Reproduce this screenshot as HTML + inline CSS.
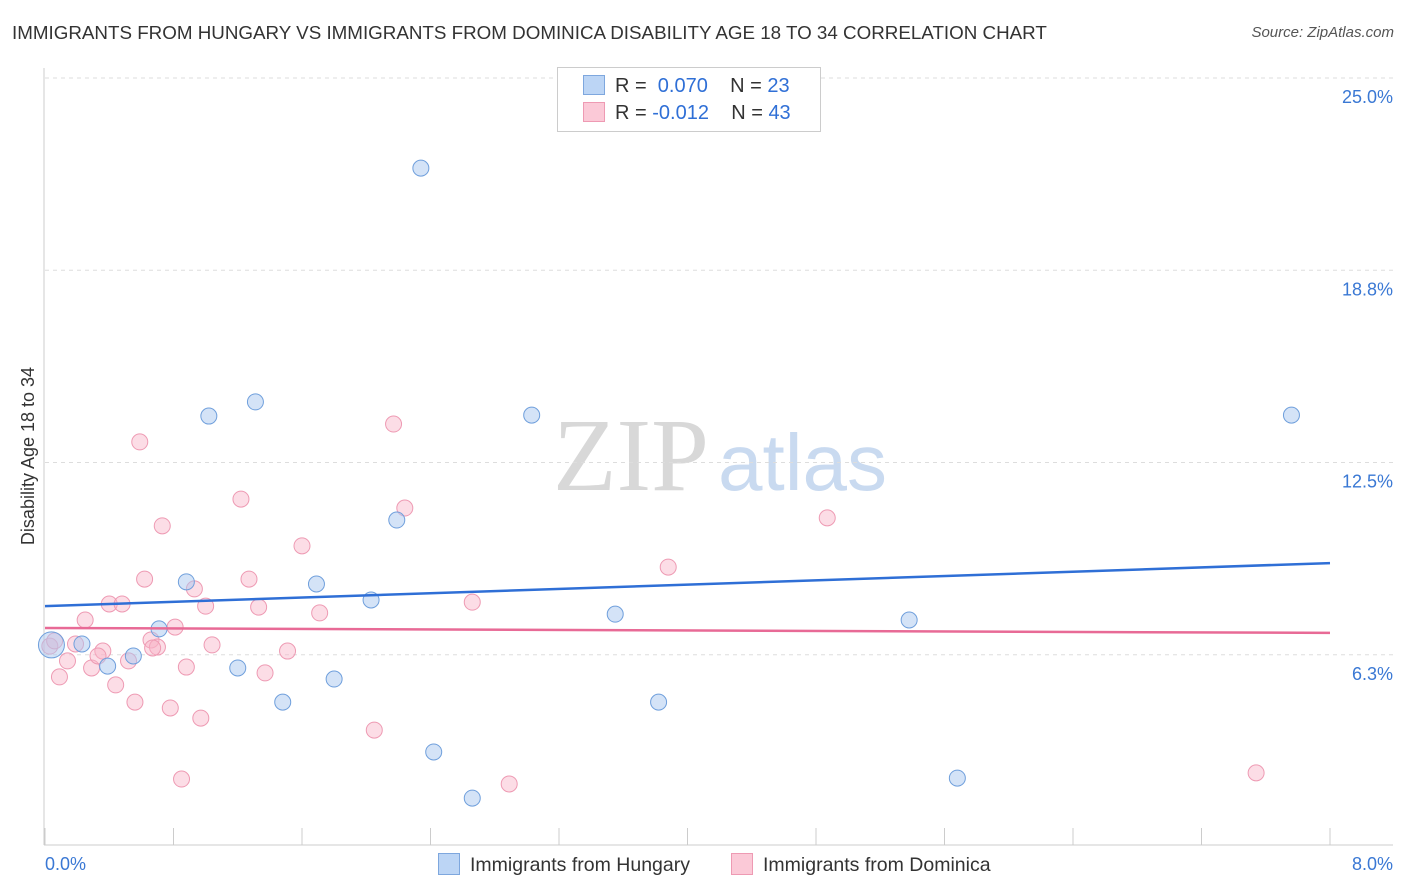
<!DOCTYPE html>
<html><head><meta charset="utf-8"><style>
body{margin:0;background:#fff;font-family:"Liberation Sans",sans-serif;}
#wrap{position:relative;width:1406px;height:892px;overflow:hidden;}
.t{position:absolute;white-space:nowrap;}
</style></head><body>
<div id="wrap">
<div class="t" style="left:12px;top:22px;font-size:18.8px;color:#333;">IMMIGRANTS FROM HUNGARY VS IMMIGRANTS FROM DOMINICA DISABILITY AGE 18 TO 34 CORRELATION CHART</div>
<div class="t" style="right:12px;top:24px;font-size:15px;color:#555;font-style:italic;">Source: ZipAtlas.com</div>
<svg id="svg" width="1406" height="892" style="position:absolute;left:0;top:0"></svg>
</div>
<script>
const xTicks=[0,0.8,1.6,2.4,3.2,4.0,4.8,5.6,6.4,7.2,8.0];
const yTicks=[6.25,12.5,18.75,25];
const yTickLabels=["6.3%","12.5%","18.8%","25.0%"];
const hungaryX=[0.04,0.23,0.39,0.55,0.71,0.88,1.02,1.20,1.31,1.48,1.69,1.80,2.03,2.19,2.34,2.42,2.66,3.03,3.55,3.82,5.38,5.68,7.76];
const hungaryY=[6.57,6.60,5.88,6.21,7.09,8.62,14.01,5.82,14.47,4.71,8.55,5.46,8.03,10.63,22.07,3.09,1.59,14.04,7.57,4.71,7.38,2.24,14.04];
const dominicaX=[0.03,0.09,0.14,0.19,0.25,0.29,0.36,0.40,0.44,0.48,0.52,0.56,0.59,0.62,0.66,0.70,0.73,0.78,0.81,0.85,0.88,0.93,0.97,1.00,1.04,1.22,1.27,1.33,1.37,1.51,1.60,1.71,2.05,2.17,2.24,2.66,2.89,3.88,4.87,7.54,0.06,0.33,0.67];
const dominicaY=[6.53,5.53,6.05,6.60,7.38,5.82,6.37,7.90,5.27,7.90,6.05,4.71,13.17,8.71,6.73,6.50,10.44,4.52,7.15,2.21,5.85,8.39,4.19,7.83,6.57,11.31,8.71,7.80,5.66,6.37,9.79,7.61,3.80,13.75,11.02,7.96,2.05,9.10,10.70,2.41,6.70,6.21,6.47];
const hungaryTrend=[7.83,9.23];
const dominicaTrend=[7.12,6.96];

const svg=document.getElementById('svg');const NS='http://www.w3.org/2000/svg';
const X=v=>45+v/8*1285, Y=v=>847-v*30.76;
function el(tag,attrs,name){const e=document.createElementNS(NS,tag);for(const k in attrs)e.setAttribute(k,attrs[k]);


svg.appendChild(e);return e;}
let w=el('text',{x:553,y:490,'font-size':104,fill:'#d8d8d8','font-family':'Liberation Serif, serif'},'watermark-zip');w.textContent='ZIP';
w=el('text',{x:718,y:490,'font-size':80,fill:'#c9daf0','font-family':'Liberation Sans, sans-serif'},'watermark-atlas');w.textContent='atlas';
yTicks.forEach((t,i)=>{el('line',{x1:45,x2:1393,y1:Y(t),y2:Y(t),stroke:'#ddd','stroke-dasharray':'4,4'},'gridline');
const tx=el('text',{x:1393,y:Y(t)+25,'font-size':18,fill:'#3a78d4','text-anchor':'end'},'y-tick-label');tx.textContent=yTickLabels[i];});
el('line',{x1:44,x2:44,y1:68,y2:845,stroke:'#ccc'},'y-axis-line');
el('line',{x1:44,x2:1393,y1:845,y2:845,stroke:'#ccc'},'x-axis-line');
xTicks.forEach(t=>el('line',{x1:X(t),x2:X(t),y1:828,y2:845,stroke:'#ccc'},'x-tick'));
let tx=el('text',{x:45,y:870,'font-size':18,fill:'#3a78d4'},'x-min-label');tx.textContent='0.0%';
tx=el('text',{x:1393,y:870,'font-size':18,fill:'#3a78d4','text-anchor':'end'},'x-max-label');tx.textContent='8.0%';
tx=el('text',{x:34,y:456,'font-size':18,fill:'#333','text-anchor':'middle',transform:'rotate(-90 34 456)'},'y-axis-title');tx.textContent='Disability Age 18 to 34';
dominicaX.forEach((v,i)=>el('circle',{cx:X(v),cy:Y(dominicaY[i]),r:8,fill:'rgba(248,180,200,0.45)',stroke:'#ee9ab3','stroke-width':1},'dominica-point'));
hungaryX.forEach((v,i)=>el('circle',{cx:X(v),cy:Y(hungaryY[i]),r:i==0?13:8,fill:'rgba(170,200,240,0.5)',stroke:'#6f9fdc','stroke-width':1},'hungary-point'));
el('line',{x1:X(0),x2:X(8),y1:Y(hungaryTrend[0]),y2:Y(hungaryTrend[1]),stroke:'#2f6fd6','stroke-width':2.5},'hungary-trendline');
el('line',{x1:X(0),x2:X(8),y1:Y(dominicaTrend[0]),y2:Y(dominicaTrend[1]),stroke:'#e86a96','stroke-width':2.5},'dominica-trendline');
</script>
<div class="t" style="left:557px;top:67px;width:262px;height:63px;border:1px solid #ccc;background:#fff;"></div>
<div class="t" style="left:583px;top:73px;font-size:20px;color:#333;line-height:27px;">
<span style="display:inline-block;width:20px;height:18px;background:#bcd5f5;border:1px solid #7ea7de;vertical-align:-3px;margin-right:10px"></span>R = &nbsp;<span style="color:#2f6fd6">0.070</span>&nbsp;&nbsp;&nbsp; N = <span style="color:#2f6fd6">23</span><br>
<span style="display:inline-block;width:20px;height:18px;background:#fbc9d7;border:1px solid #ee9ab3;vertical-align:-3px;margin-right:10px"></span>R = <span style="color:#2f6fd6">-0.012</span>&nbsp;&nbsp;&nbsp; N = <span style="color:#2f6fd6">43</span></div>
<div class="t" style="left:438px;top:853px;font-size:19.5px;color:#333;"><span style="display:inline-block;width:20px;height:20px;background:#bcd5f5;border:1px solid #7ea7de;vertical-align:-4px;margin-right:10px"></span>Immigrants from Hungary</div>
<div class="t" style="left:731px;top:853px;font-size:19.5px;color:#333;"><span style="display:inline-block;width:20px;height:20px;background:#fbc9d7;border:1px solid #ee9ab3;vertical-align:-4px;margin-right:10px"></span>Immigrants from Dominica</div>
</body></html>
